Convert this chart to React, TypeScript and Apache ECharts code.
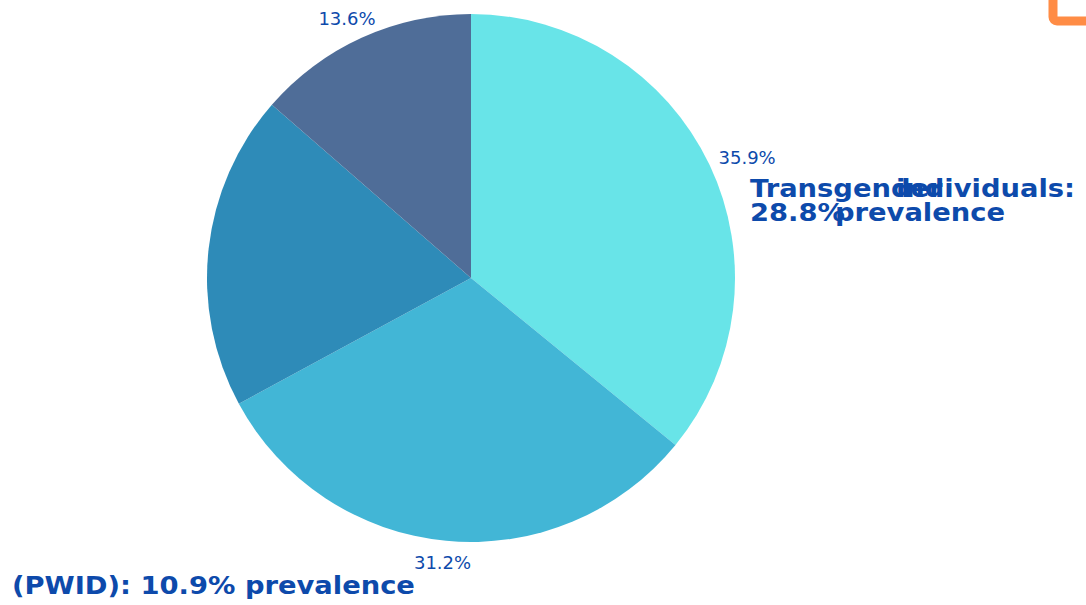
import React, { useEffect, useRef } from "react";
import * as echarts from "echarts";

const categories = ["Slice A", "Slice B", "Slice C", "Slice D"];
const values = [35.9, 31.2, 19.3, 13.6];
const colors = ["#68e4e8", "#42b6d6", "#2e8bb8", "#4f6d98"];
const showLabel = [true, true, false, true];
const labelShift = [
  { dx: 9, dy: -7 },
  { dx: 25, dy: 22 },
  { dx: 0, dy: 0 },
  { dx: 14, dy: -19 },
];

const TEXT_COLOR = "#0d4aab";
const BOLD_FONT = "bold 24px 'DejaVu Sans', Verdana, sans-serif";
const STRETCH = 1.14;

export default function App() {
  const ref = useRef<HTMLDivElement>(null);
  useEffect(() => {
    if (!ref.current) return;
    const chart = echarts.init(ref.current, null, { renderer: "svg" });
    const txt = (text: string, x: number, y: number, align: string) => ({
      type: "text",
      x,
      y,
      scaleX: STRETCH,
      style: {
        text,
        font: BOLD_FONT,
        fill: TEXT_COLOR,
        align,
        verticalAlign: "middle",
      },
    });
    chart.setOption({
      animation: false,
      backgroundColor: "#ffffff",
      series: [
        {
          type: "pie",
          center: [471, 278],
          radius: [0, 264],
          startAngle: 90,
          clockwise: true,
          avoidLabelOverlap: false,
          label: {
            show: true,
            position: "outside",
            formatter: (p: any) => p.value.toFixed(1) + "%",
            color: TEXT_COLOR,
            fontSize: 18,
            fontFamily: "'DejaVu Sans', Verdana, sans-serif",
            distanceToLabelLine: 0,
          },
          labelLine: { show: false, length: 0, length2: 0 },
          labelLayout: (p: any) => labelShift[p.dataIndex],
          emphasis: { disabled: true },
          data: categories.map((c, i) => ({
            name: c,
            value: values[i],
            itemStyle: { color: colors[i] },
            label: { show: showLabel[i] },
          })),
        },
      ],
      graphic: [
        {
          type: "rect",
          shape: { x: 1053, y: -60, width: 100, height: 81, r: 4 },
          style: { fill: "none", stroke: "#ff8c45", lineWidth: 9 },
        },
        txt("Transgender", 750, 189, "left"),
        txt("individuals:", 1075, 189, "right"),
        txt("28.8%", 750, 213, "left"),
        txt("prevalence", 1005, 213, "right"),
        txt("(PWID): 10.9% prevalence", 12, 586, "left"),
      ],
    });
    return () => chart.dispose();
  }, []);
  return (
    <div
      ref={ref}
      style={{ position: "fixed", left: 0, top: 0, width: 1086, height: 605 }}
    />
  );
}
